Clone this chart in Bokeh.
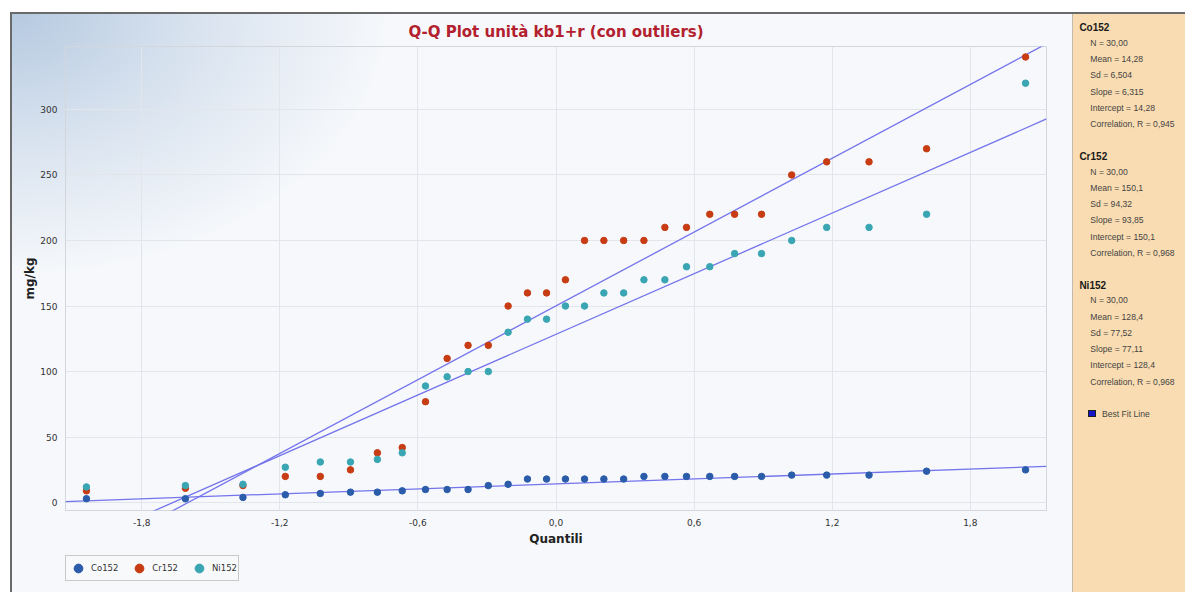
from bokeh.plotting import figure
from bokeh.models import ColumnDataSource, Range1d, FixedTicker, Legend, LegendItem, Spacer, Div
from bokeh.layouts import row, column
from bokeh.embed import file_html
from bokeh.resources import INLINE

# ---------------- data ----------------
title_text = "Q-Q Plot unità kb1+r (con outliers)"
x_label = "Quantili"
y_label = "mg/kg"
series_names = ["Co152", "Cr152", "Ni152"]
series_colors = ["#2a5caa", "#c83c14", "#3aa6b4"]

quantiles = [-2.040, -1.610, -1.360, -1.176, -1.024, -0.893, -0.776, -0.668, -0.567, -0.473,
             -0.382, -0.294, -0.208, -0.124, -0.041, 0.041, 0.124, 0.208, 0.294, 0.382,
             0.473, 0.567, 0.668, 0.776, 0.893, 1.024, 1.176, 1.360, 1.610, 2.040]

co152 = [3, 3, 4, 6, 7, 8, 8, 9, 10, 10, 10, 13, 14, 18, 18, 18, 18, 18, 18, 20,
         20, 20, 20, 20, 20, 21, 21, 21, 24, 25]
cr152 = [9, 11, 13, 20, 20, 25, 38, 42, 77, 110, 120, 120, 150, 160, 160, 170, 200, 200, 200, 200,
         210, 210, 220, 220, 220, 250, 260, 260, 270, 340]
ni152 = [12, 13, 14, 27, 31, 31, 33, 38, 89, 96, 100, 100, 130, 140, 140, 150, 150, 160, 160, 170,
         170, 180, 180, 190, 190, 200, 210, 210, 220, 320]

n_values = [30.00, 30.00, 30.00]
means = [14.28, 150.1, 128.4]
sds = [6.504, 94.32, 77.52]
slopes = [6.315, 93.85, 77.11]
intercepts = [14.28, 150.1, 128.4]
correlations = [0.945, 0.968, 0.968]

x_ticks = [-1.8, -1.2, -0.6, 0.0, 0.6, 1.2, 1.8]
x_tick_labels = ["-1,8", "-1,2", "-0,6", "0,0", "0,6", "1,2", "1,8"]
y_ticks = [0, 50, 100, 150, 200, 250, 300]
best_fit_label = "Best Fit Line"

X0, X1 = -2.131, 2.131
Y0, Y1 = -6.0, 348.0

FONT = "DejaVu Sans"
PANEL_FONT = "Liberation Sans"
LINE_COLOR = "#7474ec"
PLOT_BG = "#f6f8fb"
EDGE = "#6a6a6a"


def it(v):
    return f"{v:.4g}".replace(".", ",")


# ---------------- main plot ----------------
p = figure(width=1062, height=540, x_range=Range1d(X0, X1), y_range=Range1d(Y0, Y1),
           output_backend="svg", toolbar_location=None,
           min_border_left=55, min_border_right=26, min_border_top=34, min_border_bottom=42)
p.border_fill_alpha = 0
p.background_fill_alpha = 0
p.outline_line_color = "#d3d7dc"
p.styles = {
    "background": f"radial-gradient(ellipse 380px 265px at 0 0, #b5c9e0 0%, #d6e1ee 45%, rgba(246,248,251,0) 100%), {PLOT_BG}",
    "box-shadow": f"inset 2px 2px 0 {EDGE}",
}

p.title.text = title_text
p.title.align = "center"
p.title.text_font = FONT
p.title.text_font_style = "bold"
p.title.text_font_size = "15px"
p.title.text_color = "#b3202e"
p.title.standoff = 11

for ax in (p.xaxis[0], p.yaxis[0]):
    ax.axis_line_color = None
    ax.major_tick_line_color = None
    ax.minor_tick_line_color = None
    ax.major_tick_out = 0
    ax.major_tick_in = 0
    ax.major_label_text_font = FONT
    ax.major_label_text_font_size = "9px"
    ax.major_label_text_color = "#333333"
    ax.axis_label_text_font = FONT
    ax.axis_label_text_font_style = "bold"
    ax.axis_label_text_font_size = "12px"
    ax.axis_label_text_color = "#222222"

p.xaxis.ticker = FixedTicker(ticks=x_ticks)
p.xaxis.major_label_overrides = dict(zip(x_ticks, x_tick_labels))
p.xaxis.axis_label = x_label
p.xaxis.major_label_standoff = 8
p.xaxis.axis_label_standoff = 3

p.yaxis.ticker = FixedTicker(ticks=y_ticks)
p.yaxis.axis_label = y_label
p.yaxis.major_label_standoff = 8
p.yaxis.axis_label_standoff = 0

p.grid.grid_line_color = "#e2e5ea"
p.grid.grid_line_width = 1

# best fit lines
for m, b in zip(slopes, intercepts):
    p.line([X0, X1], [b + m * X0, b + m * X1], line_color=LINE_COLOR, line_width=1.3)

sources = []
for name, vals, col in zip(series_names, [co152, cr152, ni152], series_colors):
    src = ColumnDataSource(dict(x=quantiles, y=vals))
    sources.append(src)
    p.scatter("x", "y", source=src, size=6.5, fill_color=col, line_color=col)

# ---------------- legend strip below the plot ----------------
# (same series sources; their points fall outside this strip's ranges, only the legend shows)
lg = figure(width=1062, height=40, x_range=Range1d(0, 1), y_range=Range1d(-1000, -999),
            output_backend="svg", toolbar_location=None,
            x_axis_location=None, y_axis_location=None,
            min_border_left=55, min_border_right=26, min_border_top=0, min_border_bottom=0)
lg.border_fill_alpha = 0
lg.background_fill_alpha = 0
lg.outline_line_color = None
lg.grid.visible = False
lg.styles = {"background": PLOT_BG, "box-shadow": f"inset 2px 0 0 {EDGE}"}

items = []
for name, src, col in zip(series_names, sources, series_colors):
    r = lg.scatter("x", "y", source=src, size=6.5, fill_color=col, line_color=col)
    items.append(LegendItem(label=name, renderers=[r]))

legend = Legend(items=items, orientation="horizontal", location=(0, 11),
                glyph_width=22, glyph_height=22, padding=1, spacing=10, label_standoff=2,
                margin=0, label_text_font=FONT, label_text_font_size="8.5px",
                label_text_color="#333333", border_line_color="#9a9a9a",
                background_fill_color="#f8f9fb", background_fill_alpha=1)
lg.add_layout(legend)

# ---------------- side stats panel (HTML text) ----------------
hx, ix = 7.4, 18.3
head_y0, group_step, first_off, item_step = 16.2, 128.8, 15.6, 16.26
parts = ['<div style="position:relative;width:113px;height:580px;">']
for k, name in enumerate(series_names):
    y0 = head_y0 + k * group_step
    parts.append(
        f'<div style="position:absolute;left:{hx}px;top:{y0 - 6:.1f}px;line-height:12px;'
        f'font:bold 10px \'{PANEL_FONT}\';color:#1a1a1a;white-space:nowrap;">{name}</div>')
    lines = [
        "N = " + f"{n_values[k]:.2f}".replace(".", ","),
        "Mean = " + it(means[k]),
        "Sd = " + it(sds[k]),
        "Slope = " + it(slopes[k]),
        "Intercept = " + it(intercepts[k]),
        "Correlation, R = " + it(correlations[k]),
    ]
    for j, t in enumerate(lines):
        yy = y0 + first_off + j * item_step
        parts.append(
            f'<div style="position:absolute;left:{ix}px;top:{yy - 6:.1f}px;line-height:12px;'
            f'font:8.6px \'{PANEL_FONT}\';color:#444444;white-space:nowrap;">{t}</div>')
bf_y = 402.8
parts.append(
    f'<div style="position:absolute;left:16px;top:{bf_y - 4.5:.1f}px;width:8px;height:7px;'
    f'background:#1414c8;border:1px solid #202020;"></div>')
parts.append(
    f'<div style="position:absolute;left:30px;top:{bf_y - 6:.1f}px;line-height:12px;'
    f'font:8.6px \'{PANEL_FONT}\';color:#444444;white-space:nowrap;">{best_fit_label}</div>')
parts.append('</div>')

side = Div(text="".join(parts), width=113, height=580,
           styles={"background": "#f9dcb1",
                   "box-shadow": f"inset 0 2px 0 {EDGE}, inset 1px 0 0 #c2bab0",
                   "overflow": "hidden", "margin": "0", "padding": "0"})

layout = column(Spacer(width=1185, height=12),
                row(Spacer(width=10, height=580), column(p, lg), side))

open("out.html", "w").write(file_html(layout, INLINE))
